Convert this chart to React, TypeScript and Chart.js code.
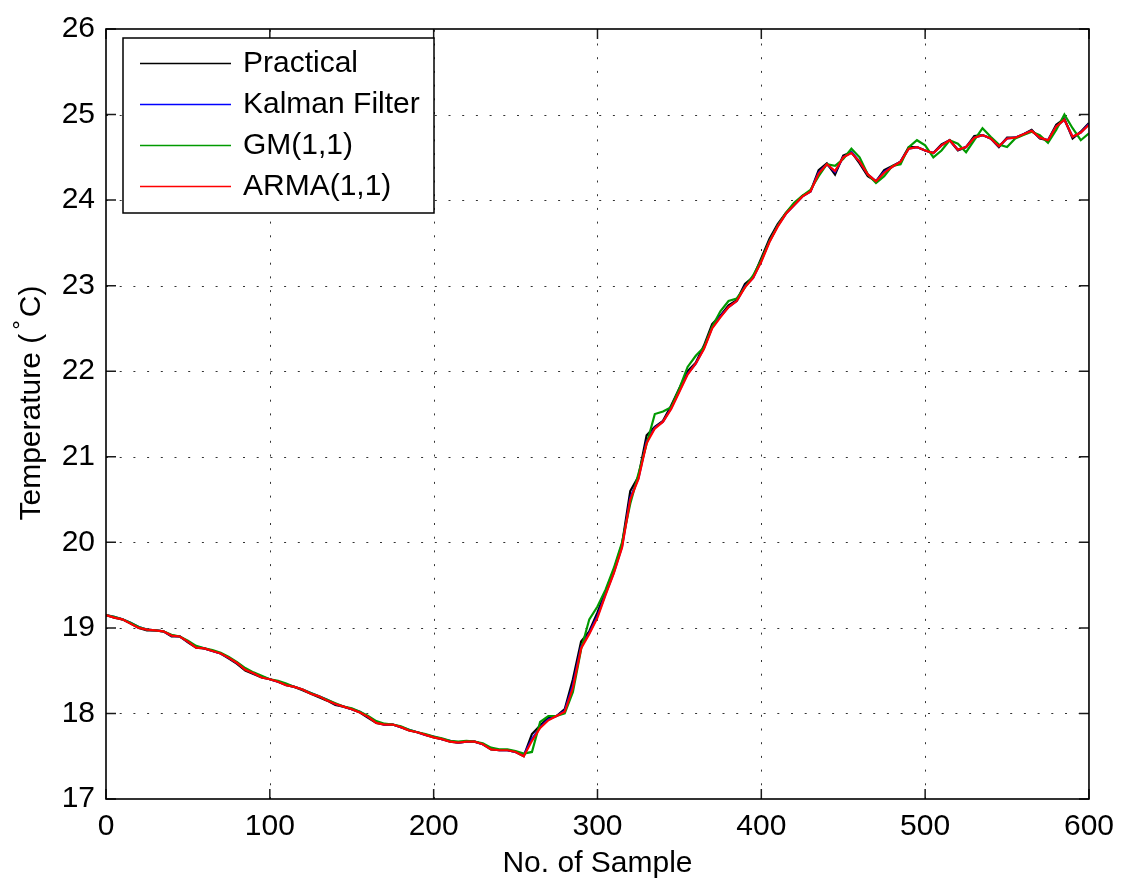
import React, { useEffect, useRef } from "react";
import { Chart, registerables } from "chart.js";

Chart.register(...registerables);

const FONT = '"Liberation Sans", Arial, Helvetica, sans-serif';

// sample index (every 5th sample)
const samples: number[] = [];
for (let s = 0; s <= 600; s += 5) samples.push(s);

const xTicks = [0, 100, 200, 300, 400, 500, 600];
const yTicks = [17, 18, 19, 20, 21, 22, 23, 24, 25, 26];

const seriesNames = ["Practical", "Kalman Filter", "GM(1,1)", "ARMA(1,1)"];
const seriesColors = ["#000000", "#0000ff", "#009a00", "#ff0000"];

const practical = [
  19.15, 19.12, 19.10, 19.05, 19.00, 18.97, 18.97, 18.96, 18.90, 18.90,
  18.83, 18.77, 18.76, 18.73, 18.70, 18.64, 18.58, 18.50, 18.46, 18.42,
  18.40, 18.37, 18.33, 18.31, 18.27, 18.23, 18.19, 18.15, 18.10, 18.08,
  18.05, 18.01, 17.95, 17.89, 17.87, 17.87, 17.84, 17.80, 17.78, 17.75,
  17.72, 17.70, 17.67, 17.66, 17.67, 17.67, 17.64, 17.58, 17.57, 17.57,
  17.55, 17.50, 17.76, 17.86, 17.95, 17.97, 18.05, 18.40, 18.84, 18.96,
  19.18, 19.43, 19.68, 19.98, 20.60, 20.77, 21.25, 21.35, 21.42, 21.60,
  21.80, 22.00, 22.10, 22.30, 22.55, 22.65, 22.77, 22.83, 23.02, 23.10,
  23.32, 23.55, 23.72, 23.85, 23.95, 24.05, 24.10, 24.35, 24.43, 24.30,
  24.52, 24.56, 24.43, 24.28, 24.22, 24.35, 24.40, 24.45, 24.62, 24.62,
  24.58, 24.55, 24.65, 24.70, 24.58, 24.62, 24.75, 24.76, 24.72, 24.62,
  24.73, 24.73, 24.77, 24.82, 24.72, 24.70, 24.88, 24.95, 24.72, 24.80,
  24.90,
];

const kalman = [
  19.15, 19.13, 19.10, 19.06, 19.01, 18.98, 18.97, 18.96, 18.91, 18.90,
  18.84, 18.78, 18.76, 18.73, 18.70, 18.65, 18.59, 18.52, 18.47, 18.43,
  18.40, 18.37, 18.34, 18.31, 18.28, 18.24, 18.20, 18.16, 18.11, 18.08,
  18.05, 18.02, 17.96, 17.90, 17.87, 17.87, 17.84, 17.81, 17.78, 17.75,
  17.73, 17.70, 17.68, 17.66, 17.67, 17.67, 17.64, 17.59, 17.57, 17.57,
  17.55, 17.51, 17.70, 17.84, 17.93, 17.97, 18.03, 18.33, 18.78, 18.94,
  19.14, 19.40, 19.65, 19.95, 20.52, 20.75, 21.18, 21.34, 21.41, 21.57,
  21.77, 21.97, 22.09, 22.27, 22.51, 22.64, 22.75, 22.82, 22.99, 23.09,
  23.29, 23.52, 23.70, 23.84, 23.94, 24.04, 24.10, 24.32, 24.42, 24.33,
  24.50, 24.56, 24.45, 24.30, 24.22, 24.33, 24.39, 24.45, 24.60, 24.62,
  24.58, 24.55, 24.64, 24.70, 24.59, 24.62, 24.73, 24.76, 24.72, 24.63,
  24.72, 24.73, 24.77, 24.81, 24.73, 24.70, 24.86, 24.94, 24.74, 24.79,
  24.89,
];

const gm = [
  19.15, 19.13, 19.10, 19.06, 19.01, 18.98, 18.97, 18.96, 18.92, 18.90,
  18.85, 18.79, 18.76, 18.74, 18.71, 18.66, 18.60, 18.53, 18.48, 18.44,
  18.40, 18.38, 18.35, 18.31, 18.28, 18.24, 18.20, 18.16, 18.12, 18.08,
  18.06, 18.02, 17.97, 17.91, 17.88, 17.87, 17.85, 17.81, 17.78, 17.76,
  17.73, 17.71, 17.68, 17.67, 17.68, 17.67, 17.65, 17.60, 17.58, 17.58,
  17.56, 17.53, 17.55, 17.90, 17.97, 17.97, 18.00, 18.25, 18.75, 19.10,
  19.25, 19.45, 19.70, 20.00, 20.45, 20.80, 21.15, 21.50, 21.53, 21.58,
  21.80, 22.05, 22.18, 22.28, 22.52, 22.70, 22.82, 22.85, 22.98, 23.12,
  23.30, 23.52, 23.70, 23.85, 23.97, 24.05, 24.12, 24.28, 24.42, 24.40,
  24.48, 24.60, 24.50, 24.30, 24.20, 24.28, 24.40, 24.42, 24.62, 24.70,
  24.64, 24.50, 24.58, 24.70, 24.66, 24.56, 24.70, 24.84, 24.74, 24.65,
  24.62, 24.72, 24.76, 24.80, 24.76, 24.67, 24.82, 25.00, 24.84, 24.70,
  24.78,
];

const arma = [
  19.15, 19.12, 19.10, 19.05, 19.00, 18.98, 18.97, 18.96, 18.91, 18.90,
  18.84, 18.77, 18.76, 18.73, 18.70, 18.65, 18.59, 18.51, 18.47, 18.42,
  18.40, 18.37, 18.33, 18.31, 18.28, 18.23, 18.20, 18.15, 18.11, 18.08,
  18.05, 18.01, 17.96, 17.89, 17.87, 17.87, 17.84, 17.80, 17.78, 17.75,
  17.72, 17.70, 17.67, 17.66, 17.67, 17.67, 17.64, 17.58, 17.57, 17.57,
  17.55, 17.50, 17.68, 17.83, 17.92, 17.97, 18.02, 18.30, 18.76, 18.93,
  19.12, 19.39, 19.64, 19.94, 20.50, 20.74, 21.16, 21.33, 21.41, 21.56,
  21.76, 21.96, 22.09, 22.26, 22.50, 22.63, 22.75, 22.82, 22.98, 23.09,
  23.28, 23.51, 23.69, 23.84, 23.94, 24.04, 24.10, 24.31, 24.42, 24.34,
  24.50, 24.55, 24.45, 24.30, 24.22, 24.32, 24.39, 24.45, 24.60, 24.62,
  24.58, 24.55, 24.64, 24.70, 24.59, 24.62, 24.73, 24.76, 24.72, 24.63,
  24.72, 24.73, 24.77, 24.81, 24.73, 24.70, 24.86, 24.94, 24.74, 24.79,
  24.88,
];

const seriesValues = [practical, kalman, gm, arma];
// lower "order" is drawn on top: ARMA on top, Practical at bottom
const drawOrder = [3, 2, 1, 0];

const matlabPlugin = {
  id: "matlabLook",
  beforeDatasetsDraw(chart: any) {
    const { ctx, chartArea: a, scales } = chart;
    ctx.save();
    ctx.strokeStyle = "rgba(0,0,0,0.8)";
    ctx.lineWidth = 1;
    ctx.setLineDash([2, 11.7]);
    for (const v of xTicks) {
      if (v === xTicks[0] || v === xTicks[xTicks.length - 1]) continue;
      const px = Math.round(scales.x.getPixelForValue(v)) + 0.5;
      ctx.beginPath();
      ctx.moveTo(px, a.bottom);
      ctx.lineTo(px, a.top);
      ctx.stroke();
    }
    for (const v of yTicks) {
      if (v === yTicks[0] || v === yTicks[yTicks.length - 1]) continue;
      const py = Math.round(scales.y.getPixelForValue(v)) + 0.5;
      ctx.beginPath();
      ctx.moveTo(a.left, py);
      ctx.lineTo(a.right, py);
      ctx.stroke();
    }
    ctx.restore();
  },
  afterDraw(chart: any) {
    const { ctx, chartArea: a, scales } = chart;
    ctx.save();
    // inward ticks on all four sides
    const tl = 10;
    ctx.strokeStyle = "#1a1a1a";
    ctx.lineWidth = 1.5;
    ctx.setLineDash([]);
    for (const v of xTicks) {
      const px = scales.x.getPixelForValue(v);
      ctx.beginPath();
      ctx.moveTo(px, a.bottom);
      ctx.lineTo(px, a.bottom - tl);
      ctx.moveTo(px, a.top);
      ctx.lineTo(px, a.top + tl);
      ctx.stroke();
    }
    for (const v of yTicks) {
      const py = scales.y.getPixelForValue(v);
      ctx.beginPath();
      ctx.moveTo(a.left, py);
      ctx.lineTo(a.left + tl, py);
      ctx.moveTo(a.right, py);
      ctx.lineTo(a.right - tl, py);
      ctx.stroke();
    }
    // axes box
    ctx.strokeStyle = "#000";
    ctx.lineWidth = 1.6;
    ctx.strokeRect(a.left, a.top, a.right - a.left, a.bottom - a.top);

    // legend
    const lx = 123, ly = 38, lw = 311, lh = 175;
    ctx.fillStyle = "#fff";
    ctx.fillRect(lx, ly, lw, lh);
    ctx.strokeStyle = "#000";
    ctx.lineWidth = 1.5;
    ctx.strokeRect(lx, ly, lw, lh);
    const rowY = [63.5, 104.5, 145.5, 186.5];
    ctx.font = `30px ${FONT}`;
    ctx.textBaseline = "middle";
    ctx.textAlign = "left";
    for (let i = 0; i < seriesNames.length; i++) {
      ctx.save();
      ctx.strokeStyle = seriesColors[i];
      ctx.lineWidth = 1.3;
      ctx.beginPath();
      ctx.moveTo(140, rowY[i]);
      ctx.lineTo(231, rowY[i]);
      ctx.stroke();
      ctx.restore();
      ctx.fillStyle = "#000";
      ctx.fillText(seriesNames[i], 243, rowY[i] + 0.5);
    }

    // x axis title
    ctx.fillStyle = "#000";
    ctx.textAlign = "center";
    ctx.textBaseline = "alphabetic";
    ctx.font = `30px ${FONT}`;
    ctx.fillText("No. of Sample", (a.left + a.right) / 2, 872);

    // y axis title with superscript degree
    ctx.save();
    ctx.translate(40, 403);
    ctx.rotate(-Math.PI / 2);
    ctx.textAlign = "left";
    const p1 = "Temperature (";
    const p2 = "\u00B0";
    const p3 = "C)";
    ctx.font = `30px ${FONT}`;
    const w1 = ctx.measureText(p1).width;
    const w3 = ctx.measureText(p3).width;
    ctx.font = `24px ${FONT}`;
    const w2 = ctx.measureText(p2).width;
    const gapA = 4, gapB = 3;
    const total = w1 + gapA + w2 + gapB + w3;
    let cx = -total / 2;
    ctx.font = `30px ${FONT}`;
    ctx.fillText(p1, cx, 0);
    cx += w1 + gapA;
    ctx.font = `24px ${FONT}`;
    ctx.fillText(p2, cx, -11);
    cx += w2 + gapB;
    ctx.font = `30px ${FONT}`;
    ctx.fillText(p3, cx, 0);
    ctx.restore();

    ctx.restore();
  },
};

export default function App() {
  const canvasRef = useRef<HTMLCanvasElement | null>(null);

  useEffect(() => {
    document.body.style.margin = "0";
    const canvas = canvasRef.current;
    if (!canvas) return;
    const chart = new Chart(canvas, {
      type: "line",
      data: {
        datasets: seriesNames.map((name, i) => ({
          label: name,
          data: samples.map((s, j) => ({ x: s, y: seriesValues[i][j] })),
          borderColor: seriesColors[i],
          backgroundColor: seriesColors[i],
          borderWidth: 2.2,
          pointRadius: 0,
          tension: 0,
          fill: false,
          order: drawOrder[i],
        })),
      },
      options: {
        responsive: false,
        animation: false,
        events: [],
        layout: { padding: { left: 0, top: 22, right: 32, bottom: 0 } },
        plugins: {
          legend: { display: false },
          tooltip: { enabled: false },
          title: { display: false },
        },
        scales: {
          x: {
            type: "linear",
            min: 0,
            max: 600,
            afterFit: (scale: any) => {
              scale.height = 81;
            },
            afterBuildTicks: (scale: any) => {
              scale.ticks = xTicks.map((v) => ({ value: v }));
            },
            grid: { display: false, drawTicks: false },
            border: { display: false },
            ticks: {
              color: "#000",
              font: { family: FONT, size: 30 },
              padding: 10,
              maxRotation: 0,
              autoSkip: false,
            },
          },
          y: {
            type: "linear",
            min: 17,
            max: 26,
            afterFit: (scale: any) => {
              scale.width = 106;
            },
            afterBuildTicks: (scale: any) => {
              scale.ticks = yTicks.map((v) => ({ value: v }));
            },
            grid: { display: false, drawTicks: false },
            border: { display: false },
            ticks: {
              color: "#000",
              font: { family: FONT, size: 30 },
              padding: 11,
              autoSkip: false,
            },
          },
        },
      },
      plugins: [matlabPlugin],
    });
    return () => chart.destroy();
  }, []);

  return (
    <div style={{ width: 1124, height: 880, background: "#fff" }}>
      <canvas ref={canvasRef} width={1124} height={880} />
    </div>
  );
}
